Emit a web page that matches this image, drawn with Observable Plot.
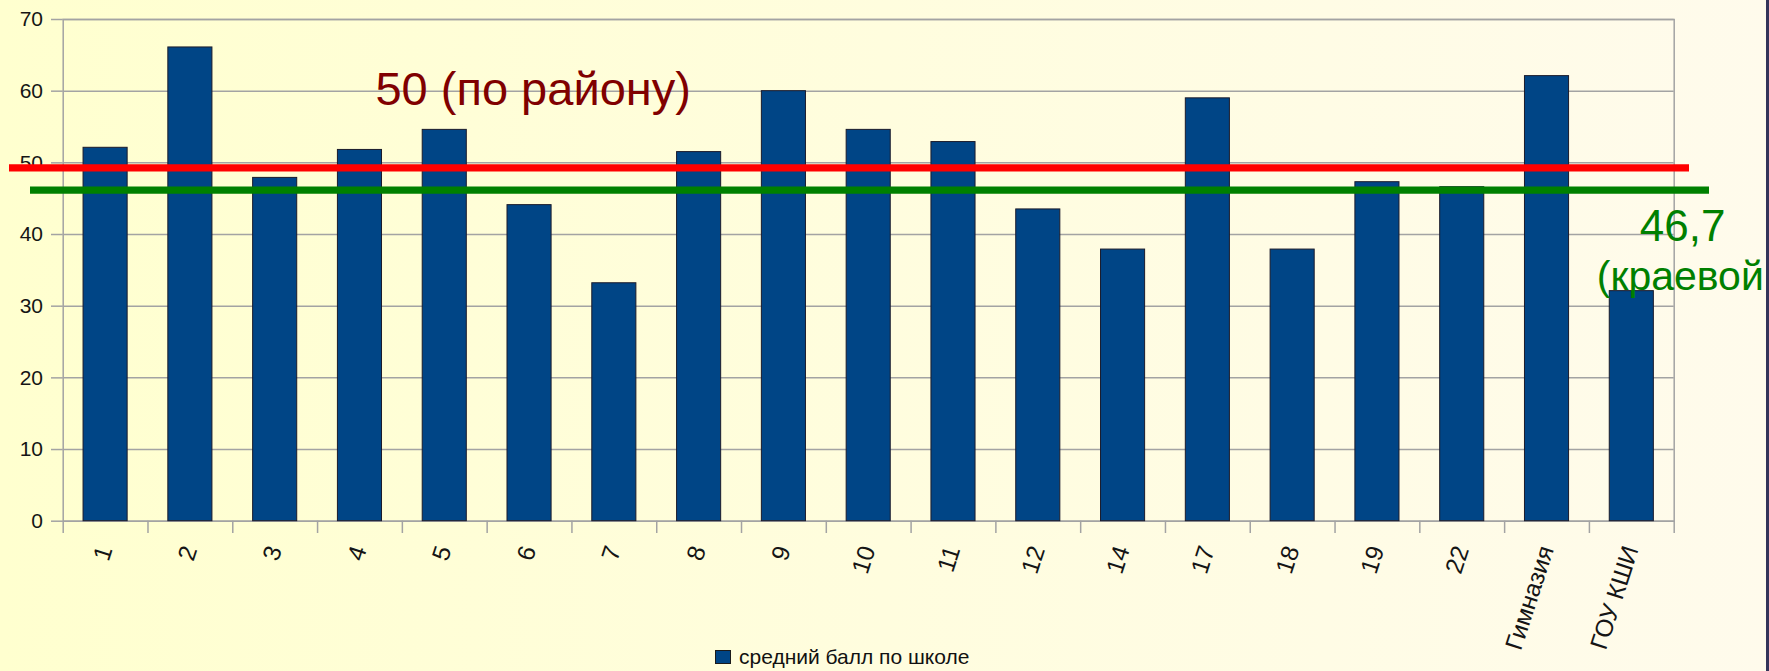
<!DOCTYPE html>
<html>
<head>
<meta charset="utf-8">
<script src="https://cdn.jsdelivr.net/npm/d3@7"></script>
<script src="https://cdn.jsdelivr.net/npm/@observablehq/plot@0.6"></script>
<style>
  html, body { margin: 0; padding: 0; }
  body {
    width: 1769px; height: 671px; overflow: hidden; position: relative;
    background: linear-gradient(to right, #ffffcf 0%, #fffdde 50%, #fffbec 100%);
    font-family: "Liberation Sans", Arial, sans-serif;
  }
  #chart svg { display: block; background: transparent; }
  #legend {
    position: absolute; left: 715px; top: 645px;
    display: flex; align-items: center; font-size: 21px; color: #111;
  }
  #legend .sw { width: 14px; height: 12px; background: #004586; border: 1px solid #1b1b1b; margin-right: 8px; }
  #edge { position: absolute; right: 0; top: 0; width: 3px; height: 671px; background: #34345a; }
</style>
</head>
<body>
<div id="chart"></div>
<div id="legend"><div class="sw"></div><span id="legendText"></span></div>
<div id="edge"></div>
<script>
const schools = ["1","2","3","4","5","6","7","8","9","10","11","12","14","17","18","19","22","Гимназия","ГОУ КШИ"];
const scores  = [52.1, 66.1, 47.9, 51.8, 54.6, 44.1, 33.2, 51.5, 60.0, 54.6, 52.9, 43.5, 37.9, 59.0, 37.9, 47.3, 46.6, 62.1, 32.1];
const yTicks = [0, 10, 20, 30, 40, 50, 60, 70];
const seriesName = "средний балл по школе";
const districtValue = 49.3;   // red line as drawn
const districtLabel = "50 (по району)";
const regionValue = 46.2;     // green line as drawn
const regionLabel1 = "46,7";
const regionLabel2 = "(краевой";

const data = schools.map((s, i) => ({school: s, score: scores[i]}));

const W = 1769, H = 636;
const mL = 62.7, mR = 95.3, mT = 19, mB = 115.3;
const step = (W - mL - mR) / schools.length;
const font = '"Liberation Sans", Arial, sans-serif';

const chart = Plot.plot({
  width: W, height: H,
  marginLeft: mL, marginRight: mR, marginTop: mT, marginBottom: mB,
  style: {background: "transparent", fontFamily: font, overflow: "visible"},
  x: {type: "band", domain: schools, paddingInner: 0.48, paddingOuter: 0.24, round: false, axis: null},
  y: {domain: [0, 70], axis: null, label: null},
  marks: [
    Plot.gridY(yTicks, {stroke: "#a3a3a3", strokeOpacity: 1, strokeWidth: 1.5}),
    Plot.frame({stroke: "#a3a3a3", strokeWidth: 1.5}),
    Plot.axisY(yTicks, {label: null, tickSize: 11.7, tickPadding: 8.5, fontSize: 21, stroke: "#a3a3a3", strokeWidth: 1.5, fill: "#151515", tickFormat: d => String(d)}),
    Plot.ruleX(schools, {x: d => d, y1: 0, y2: -1.72, dx: -step / 2, stroke: "#a3a3a3", strokeWidth: 1.5}),
    Plot.ruleX(schools.slice(-1), {x: d => d, y1: 0, y2: -1.72, dx: step / 2, stroke: "#a3a3a3", strokeWidth: 1.5}),
    Plot.barY(data, {x: "school", y: "score", fill: "#004586", stroke: "#1b1b2b", strokeWidth: 1}),
    Plot.text(schools, {x: d => d, y: 0, text: d => d, rotate: -72, textAnchor: "end", lineAnchor: "bottom", dx: 7, dy: 28, fontSize: 24.5, fill: "#151515"}),
    Plot.ruleY([districtValue], {stroke: "#ff0000", strokeWidth: 7.3, insetLeft: -53.7, insetRight: -15.3}),
    Plot.ruleY([regionValue], {stroke: "#008000", strokeWidth: 7.3, insetLeft: -32.7, insetRight: -35.3}),
    Plot.text([districtLabel], {x: () => "4", y: () => 58.1, text: d => d, textAnchor: "start", lineAnchor: "bottom", dx: 15.5, fontSize: 47, fill: "#800000"}),
    Plot.text([regionLabel1], {x: () => "ГОУ КШИ", y: () => 39.1, text: d => d, textAnchor: "start", lineAnchor: "bottom", dx: 8, fontSize: 44, fill: "#008000"}),
    Plot.text([regionLabel2], {x: () => "ГОУ КШИ", y: () => 32.2, text: d => d, textAnchor: "start", lineAnchor: "bottom", dx: -35, fontSize: 41, fill: "#008000"})
  ]
});
document.getElementById("chart").appendChild(chart);
document.getElementById("legendText").textContent = seriesName;
</script>
</body>
</html>
